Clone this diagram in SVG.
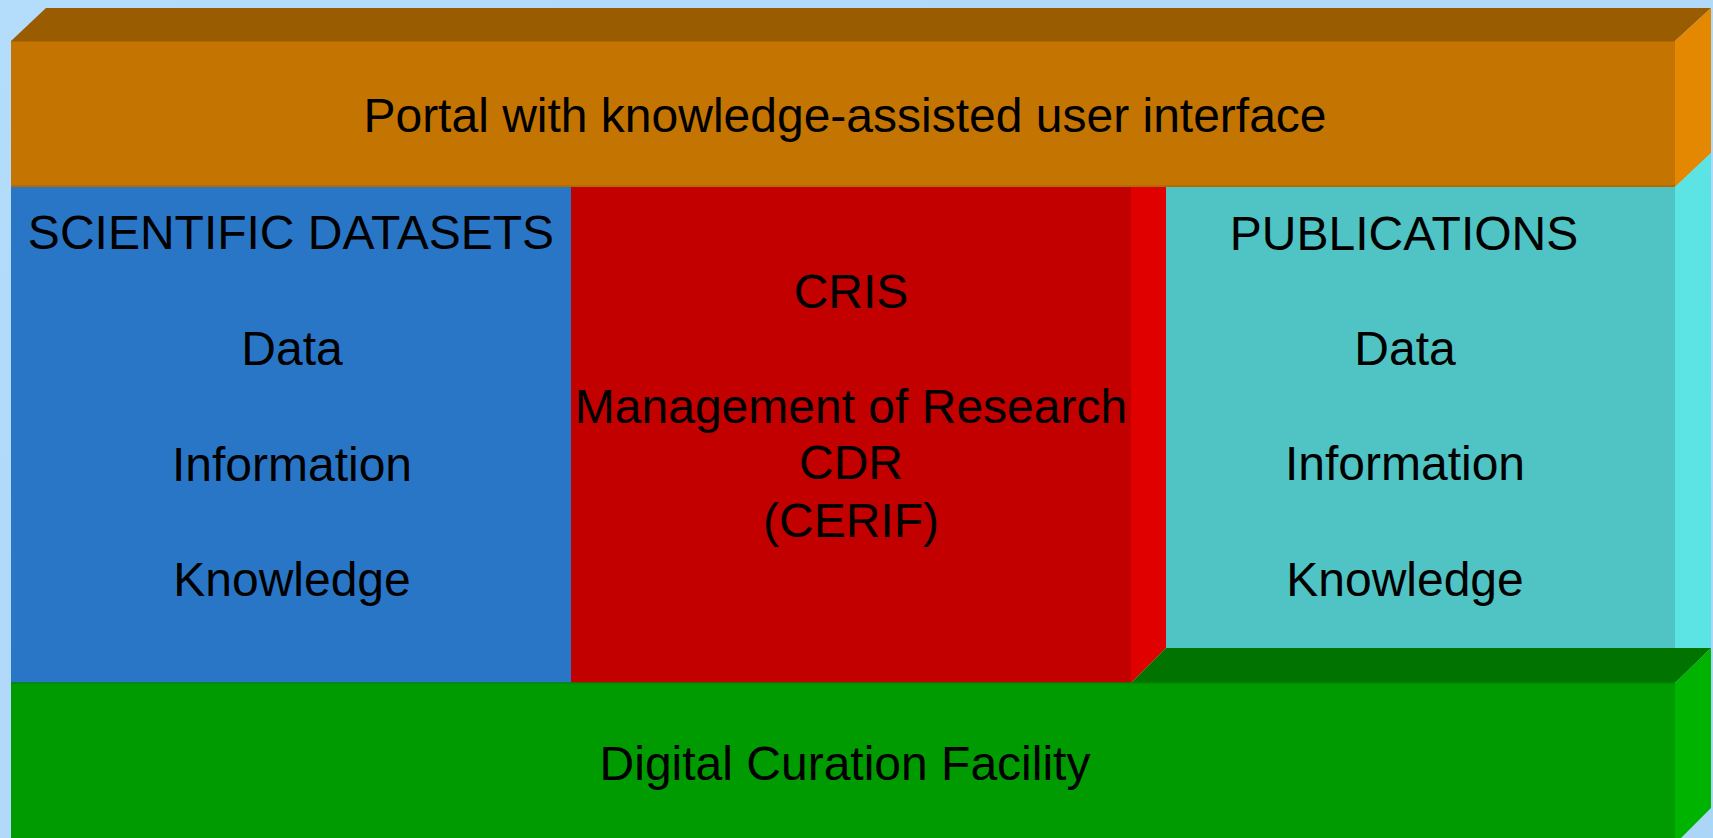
<svg xmlns="http://www.w3.org/2000/svg" width="1713" height="838" viewBox="0 0 1713 838">
<defs>
<linearGradient id="bg" x1="0" y1="0" x2="1" y2="1">
<stop offset="0" stop-color="#b4dcfb"/>
<stop offset="1" stop-color="#acd6f8"/>
</linearGradient>
</defs>
<style>
text{font-family:"Liberation Sans",Arial,sans-serif;font-size:48px;fill:#000;text-anchor:middle}
</style>
<rect x="0" y="0" width="1713" height="838" fill="url(#bg)"/>
<g id="portal">
<polygon points="11,41 46,8 1711,8 1675,41" fill="#9a5c00"/>
<polygon points="1675,41 1711,8 1711,153 1675,187" fill="#e38800"/>
<rect x="11" y="41" width="1664" height="146" fill="#c47400"/>
<line x1="11" y1="41.5" x2="1675" y2="41.5" stroke="#b06800" stroke-width="1"/>
<line x1="11" y1="186" x2="1675" y2="186" stroke="#b06800" stroke-width="1.5"/>
<text x="845" y="132">Portal with knowledge-assisted user interface</text>
</g>
<g id="datasets">
<rect x="11" y="187" width="560" height="496" fill="#2a76c6"/>
<text x="291" y="249">SCIENTIFIC DATASETS</text>
<text x="292" y="365">Data</text>
<text x="292" y="481">Information</text>
<text x="292" y="596">Knowledge</text>
</g>
<g id="cris">
<rect x="571" y="187" width="560" height="496" fill="#c20000"/>
<polygon points="1131,187 1166,187 1166,648 1131,683" fill="#e00000"/>
<text x="851" y="308">CRIS</text>
<text x="851" y="423">Management of Research</text>
<text x="851" y="479">CDR</text>
<text x="851" y="537">(CERIF)</text>
</g>
<g id="publications">
<rect x="1166" y="187" width="509" height="461" fill="#50c4c4"/>
<polygon points="1675,187 1711,153 1711,648 1675,683" fill="#5ce3e3"/>
<text x="1404" y="250">PUBLICATIONS</text>
<text x="1405" y="365">Data</text>
<text x="1405" y="480">Information</text>
<text x="1405" y="596">Knowledge</text>
</g>
<g id="curation">
<polygon points="1131,683 1166,648 1711,648 1675,683" fill="#007300"/>
<polygon points="1675,683 1711,648 1711,808 1681,838 1675,838" fill="#00b300"/>
<rect x="11" y="683" width="1664" height="155" fill="#009b00"/>
<line x1="11" y1="683" x2="1675" y2="683" stroke="#008a00" stroke-width="1.5"/>
<text x="845" y="780">Digital Curation Facility</text>
</g>
<g id="connectors"/>
</svg>
